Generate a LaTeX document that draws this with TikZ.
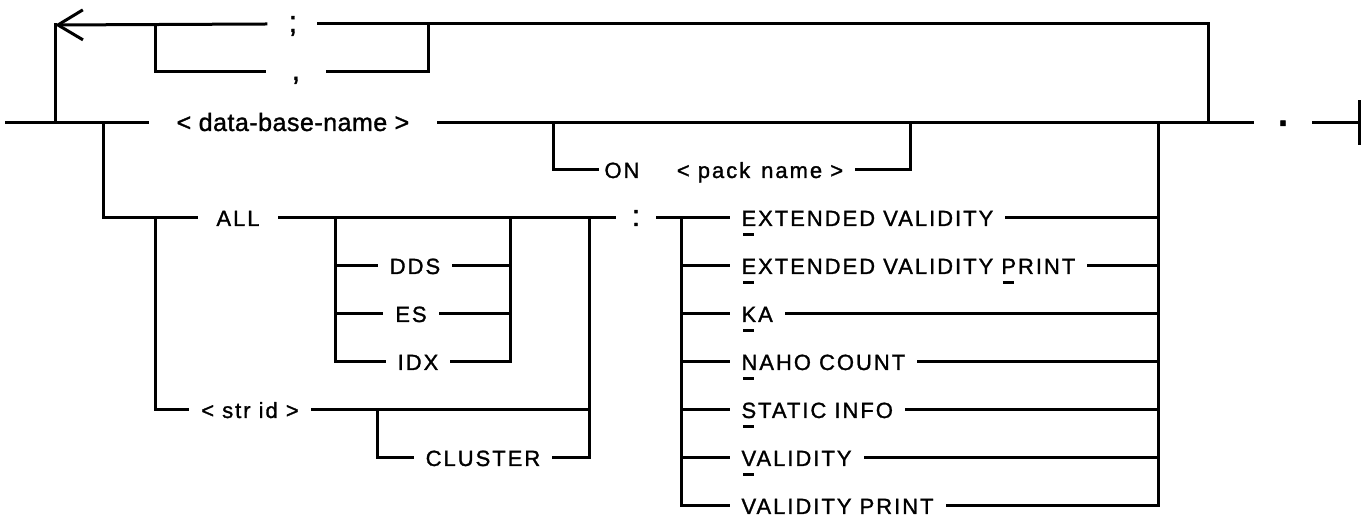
\documentclass[tikz,border=0pt]{standalone}
\usepackage{fontspec}
\setmainfont{Liberation Sans}[LetterSpace=9, FakeBold=1.3]
\newfontfamily\plainfont{Liberation Sans}[LetterSpace=2, FakeBold=1.3]
\usetikzlibrary{arrows.meta}
\newcommand\keyu[1]{\rlap{\hspace{0.8pt}\rule[-5pt]{5.5pt}{1.3pt}}#1}

\begin{document}
\begin{tikzpicture}[
    x=0.5pt, y=-0.5pt,
    line width=1.5pt, line cap=rect,
    word/.style={inner xsep=6pt, inner ysep=0pt, text height=8pt, text depth=0pt, font=\fontsize{11}{13}\selectfont},
    item/.style={word, anchor=west},
    punct/.style={word, font=\fontsize{15}{17}\selectfont},
    back/.style={line cap=butt, -{Straight Barb[length=12.5pt, width=15pt]}}
]
\useasboundingbox (0,0) rectangle (1362,522);

% Nodes
\node (dbname) [word, inner xsep=14pt, font=\fontsize{12.5}{14}\plainfont] at (293,123) {< data-base-name >};
\node (semi) [punct, inner xsep=10pt] at (293,24) {;};
\node (comma) [punct, inner xsep=13pt] at (296,72) {,};
\node (onkw) [word, inner xsep=3pt] at (622,170) {ON};
\node (packname) [word] at (760,170) {< pack\enspace name >};
\node (period) [word, inner xsep=11pt, font=\fontsize{24}{26}\selectfont] at (1283,123) {\raisebox{2.6pt}{.}};
\node (all) [word, inner xsep=9pt] at (238,218) {ALL};
\node (colon) [punct, inner xsep=8pt] at (636,218) {:};
\node (dds) [word] at (415,266) {DDS};
\node (es) [word] at (411,314) {ES};
\node (idx) [word] at (418,362) {IDX};
\node (strid) [word] at (250,410) {< str id >};
\node (cluster) [word] at (483,458) {CLUSTER};
\node (ev) [item] at (728,218) {\keyu{E}XTENDED VALIDITY};
\node (evp) [item] at (728,266) {\keyu{E}XTENDED VALIDITY \keyu{P}RINT};
\node (ka) [item] at (728,314) {\keyu{K}A};
\node (naho) [item] at (728,362) {\keyu{N}AHO COUNT};
\node (static) [item] at (728,410) {\keyu{S}TATIC INFO};
\node (valid) [item] at (728,458) {\keyu{V}ALIDITY};
\node (validp) [item] at (728,506) {VALIDITY PRINT};

% Junctions
\coordinate (start) at (6,123);
\coordinate (loopL) at (55,123);
\coordinate (corner) at (55,25);
\coordinate (comL) at (155,25);
\coordinate (comR) at (428,25);
\coordinate (loopR) at (1208,123);
\coordinate (onL) at (553,123);
\coordinate (onR) at (910,123);
\coordinate (allL) at (103,123);
\coordinate (strL) at (155,218);
\coordinate (grpL) at (335,218);
\coordinate (grpR) at (510,218);
\coordinate (allR) at (589,218);
\coordinate (clL) at (377,410);
\coordinate (lstL) at (681,218);
\coordinate (lstR) at (1158,123);
\coordinate (stop) at (1359,123);

% Main line
\draw (start) -- (dbname.west);
\draw (dbname.east) -- (period.west);
\draw (period.east) -- (stop);
\draw (stop) ++(0,-21) -- ++(0,42);

% Repeat loop
\draw (loopL) -- (corner);
\draw [back] (semi.west) -- (corner);
\draw (semi.east) -| (loopR);
\draw (comL) |- (comma.west);
\draw (comma.east) -| (comR);

% ON pack
\draw (onL) |- (onkw.west);
\draw (packname.east) -| (onR);

% ALL / str id
\draw (allL) |- (all.west);
\draw (all.east) -- (colon.west);
\draw (colon.east) -- (ev.west);
\foreach \k in {dds,es,idx} {
  \draw (grpL) |- (\k.west);
  \draw (\k.east) -| (grpR);
}
\draw (strL) |- (strid.west);
\draw (strid.east) -| (allR);
\draw (clL) |- (cluster.west);
\draw (cluster.east) -| (allR);

% Options
\foreach \k in {evp,ka,naho,static,valid,validp}
  \draw (lstL) |- (\k.west);
\foreach \k in {ev,evp,ka,naho,static,valid,validp}
  \draw (\k.east) -| (lstR);

\end{tikzpicture}
\end{document}
